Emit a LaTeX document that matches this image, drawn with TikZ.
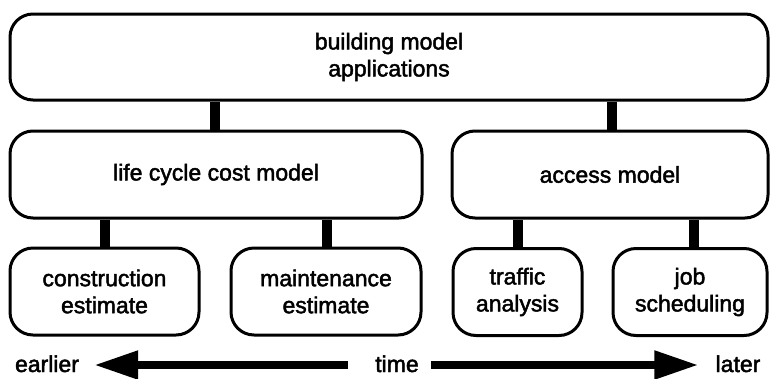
\documentclass[tikz,border=0pt]{standalone}
\usepackage{fontspec}
\setmainfont{Liberation Sans}
\newfontfamily\heavyfont{Liberation Sans}[FakeBold=2]
\usetikzlibrary{arrows.meta}
\begin{document}
\begin{tikzpicture}[x=1pt,y=-1pt,
  every node/.style={font=\heavyfont\fontsize{23}{27}\selectfont},
  box/.style={draw, line width=3pt, rounded corners=23pt, align=center,
    inner sep=0pt, minimum height=87pt},
  link/.style={line width=10pt},
  label/.style={inner sep=0pt, text depth=0pt},
  timearrow/.style={line width=8pt, -{Triangle[length=44pt,width=27pt]}}]
  \useasboundingbox (0,0) rectangle (770,378);

  % hierarchy of models
  \node[box, minimum width=758pt, minimum height=86pt] (top) at (389,57)
    {building model\\applications};
  \node[box, minimum width=412pt] (life) at (216,174.5) {life cycle cost model};
  \node[box, minimum width=316pt] (access) at (610,174.5) {access model};
  \node[box, minimum width=189pt] (constr) at (104.5,291.5) {construction\\estimate};
  \node[box, minimum width=190pt] (maint) at (326,291.5) {maintenance\\estimate};
  \node[box, minimum width=129pt] (traffic) at (517.5,292) {traffic\\analysis};
  \node[box, minimum width=154pt] (job) at (690,292) {job\\scheduling};

  % links between levels
  \draw[link] (top.south -| 215,0) -- (life.north -| 215,0);
  \draw[link] (top.south -| 612,0) -- (access.north -| 612,0);
  \draw[link] (life.south -| 105,0) -- (constr.north -| 105,0);
  \draw[link] (life.south -| 327,0) -- (maint.north -| 327,0);
  \draw[link] (access.south -| 518,0) -- (traffic.north -| 518,0);
  \draw[link] (access.south -| 694,0) -- (job.north -| 694,0);

  % time axis
  \node[label, anchor=base] (earlier) at (47,372) {earlier};
  \node[label, anchor=base] (time) at (397,372) {time};
  \node[label, anchor=base] (later) at (738,372) {later};
  \draw[timearrow, shorten <=27pt, shorten >=15pt] (time.west |- 0,365) -- (earlier.east |- 0,365);
  \draw[timearrow, shorten <=12pt, shorten >=17pt] (time.east |- 0,365) -- (later.west |- 0,365);
\end{tikzpicture}
\end{document}
